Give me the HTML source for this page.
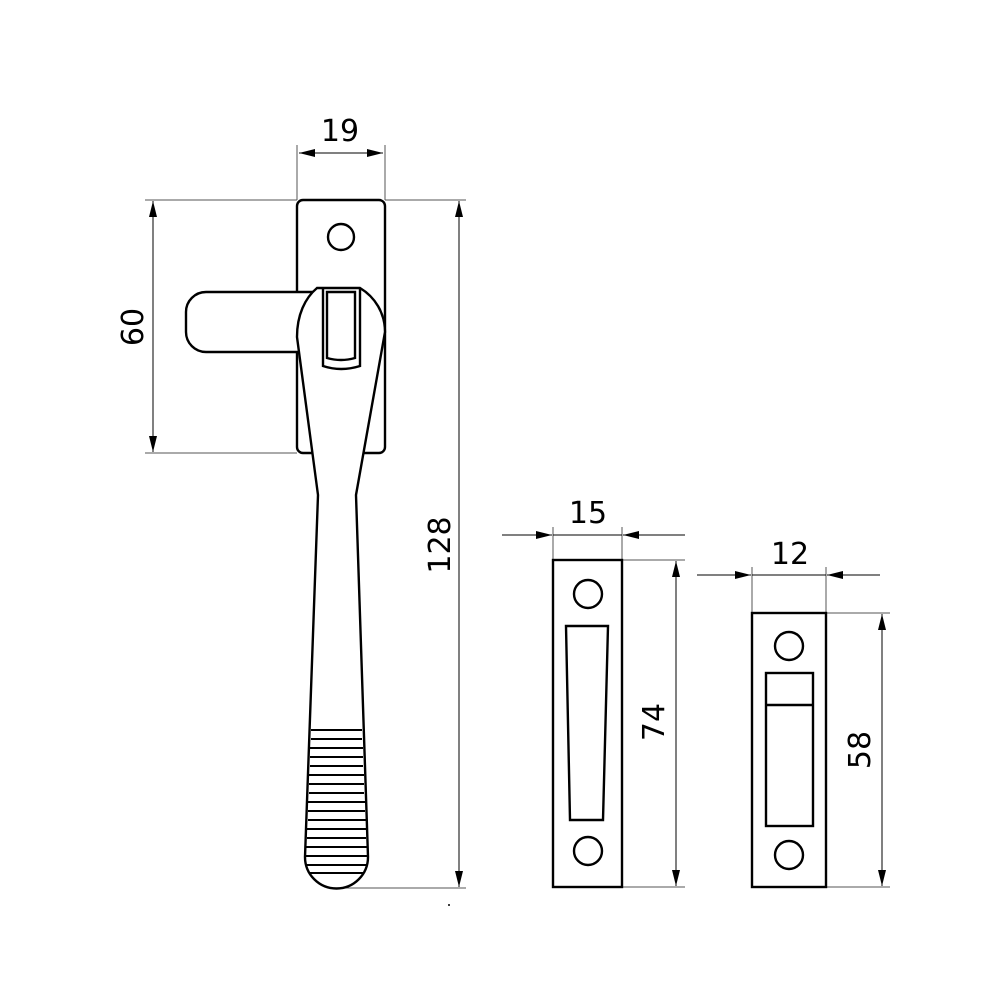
<!DOCTYPE html>
<html><head><style>body{margin:0;background:#fff}svg{display:block}</style></head><body>
<svg width="1000" height="1000" viewBox="0 0 1000 1000" xmlns="http://www.w3.org/2000/svg" font-family="'DejaVu Sans','Liberation Sans',sans-serif" font-size="30">
<defs>
<marker id="a" viewBox="0 0 16 8" refX="16" refY="4" markerWidth="16" markerHeight="8" markerUnits="userSpaceOnUse" orient="auto"><path d="M0,0L16,4L0,8z" fill="#000"/></marker>
</defs>
<g stroke="#555" stroke-width="1" fill="none">
<line x1="297" y1="145" x2="297" y2="200"/><line x1="385" y1="145" x2="385" y2="200"/>
<line x1="145" y1="200" x2="297" y2="200"/><line x1="145" y1="453" x2="297" y2="453"/>
<line x1="385" y1="200" x2="466" y2="200"/><line x1="336" y1="888" x2="466" y2="888"/>
<line x1="553" y1="527" x2="553" y2="560"/><line x1="622" y1="527" x2="622" y2="560"/>
<line x1="622" y1="560" x2="685" y2="560"/><line x1="622" y1="887" x2="685" y2="887"/>
<line x1="752" y1="567" x2="752" y2="613"/><line x1="826" y1="567" x2="826" y2="613"/>
<line x1="826" y1="613" x2="890" y2="613"/><line x1="826" y1="887" x2="890" y2="887"/>
</g>
<g stroke="#000" stroke-width="1">
<line x1="341" y1="153" x2="383" y2="153" marker-end="url(#a)"/>
<line x1="341" y1="153" x2="299" y2="153" marker-end="url(#a)"/>
<line x1="153" y1="326" x2="153" y2="201" marker-end="url(#a)"/>
<line x1="153" y1="326" x2="153" y2="452" marker-end="url(#a)"/>
<line x1="459" y1="544" x2="459" y2="201" marker-end="url(#a)"/>
<line x1="459" y1="544" x2="459" y2="887" marker-end="url(#a)"/>
<line x1="502" y1="535" x2="552" y2="535" marker-end="url(#a)"/>
<line x1="685" y1="535" x2="623" y2="535" marker-end="url(#a)"/>
<line x1="553" y1="535" x2="622" y2="535"/>
<line x1="676" y1="720" x2="676" y2="561" marker-end="url(#a)"/>
<line x1="676" y1="720" x2="676" y2="886" marker-end="url(#a)"/>
<line x1="697" y1="575" x2="751" y2="575" marker-end="url(#a)"/>
<line x1="880" y1="575" x2="827" y2="575" marker-end="url(#a)"/>
<line x1="752" y1="575" x2="826" y2="575"/>
<line x1="882" y1="750" x2="882" y2="614" marker-end="url(#a)"/>
<line x1="882" y1="750" x2="882" y2="886" marker-end="url(#a)"/>
</g>
<g fill="#000">
<text x="340" y="141" text-anchor="middle">19</text>
<text transform="translate(143,327) rotate(-90)" text-anchor="middle">60</text>
<text transform="translate(450,545) rotate(-90)" text-anchor="middle">128</text>
<text x="588" y="523" text-anchor="middle">15</text>
<text transform="translate(664,722) rotate(-90)" text-anchor="middle">74</text>
<text x="790" y="564" text-anchor="middle">12</text>
<text transform="translate(870,750) rotate(-90)" text-anchor="middle">58</text>
<circle cx="449" cy="905" r="1"/>
</g>
<g stroke="#000" stroke-width="2.4" fill="#fff">
<rect x="297" y="200" width="88" height="253" rx="6"/>
<circle cx="341" cy="237" r="13"/>
<circle cx="341" cy="415" r="13"/>
<path d="M325,292 H206 A20,20 0 0 0 186,312 V332 A20,20 0 0 0 206,352 H325"/>
<path d="M317,288 C305,298 297,315 297,337 L318,495 L305,857 A31.5,31.5 0 0 0 368,857 L356,495 L385,332 C385,313 375,297 360,288 Z"/>
<path d="M323,288 V366 Q341,372 360,366 V288" fill="none"/>
<path d="M327,292 V358 Q341,362 355,358 V292 Z" fill="none"/>
<g fill="none" stroke-width="2">
<line x1="311" y1="730" x2="362" y2="730"/><line x1="311" y1="739" x2="362" y2="739"/>
<line x1="310" y1="748" x2="363" y2="748"/><line x1="310" y1="757" x2="363" y2="757"/>
<line x1="310" y1="766" x2="363" y2="766"/><line x1="309" y1="775" x2="364" y2="775"/>
<line x1="309" y1="784" x2="364" y2="784"/><line x1="309" y1="793" x2="364" y2="793"/>
<line x1="308" y1="802" x2="365" y2="802"/><line x1="308" y1="811" x2="365" y2="811"/>
<line x1="308" y1="820" x2="366" y2="820"/><line x1="307" y1="829" x2="366" y2="829"/>
<line x1="307" y1="838" x2="366" y2="838"/><line x1="306" y1="847" x2="367" y2="847"/>
<line x1="305" y1="856" x2="368" y2="856"/><line x1="306" y1="865" x2="367" y2="865"/>
<line x1="309" y1="873" x2="364" y2="873"/>
</g>
<rect x="553" y="560" width="69" height="327"/>
<circle cx="588" cy="594" r="14"/>
<circle cx="588" cy="851" r="14"/>
<path d="M566,626 H608 L603,820 H570 Z"/>
<rect x="752" y="613" width="74" height="274"/>
<circle cx="789" cy="646" r="14"/>
<circle cx="789" cy="855" r="14"/>
<rect x="766" y="673" width="47" height="153"/>
<line x1="766" y1="705" x2="813" y2="705"/>
</g>
</svg>
</body></html>
